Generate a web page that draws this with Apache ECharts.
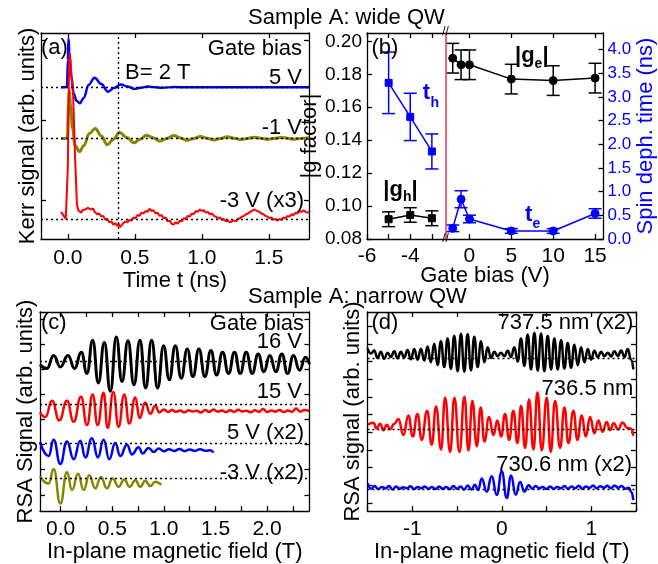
<!DOCTYPE html>
<html><head><meta charset="utf-8">
<script src="https://cdn.jsdelivr.net/npm/echarts@6/dist/echarts.min.js"></script>
<style>html,body{margin:0;padding:0;background:#fff}#c{width:658px;height:564px}</style>
</head><body><div id="c"></div>
<script>
// ---------------- titles ----------------
const titleWide = 'Sample A: wide QW';
const titleNarrow = 'Sample A: narrow QW';

// ---------------- panel (a): Kerr signal vs time ----------------
const kerrTimeTicks = [0, 0.5, 1.0, 1.5];
const kerrBaseline5V = 1.41, kerrBaselineM1V = 0.77, kerrBaselineM3V = -0.24;
const kerrFieldMarkerTime = 0.38;
const kerr5V = [[-0.05,1.41],[-0.02,1.41],[-0.005,1.42],[0.0,1.75],[0.005,2.02],[0.012,1.85],[0.025,1.55],[0.045,1.33],[0.065,1.24],[0.09,1.21],[0.12,1.28],[0.155,1.44],[0.2,1.53],[0.25,1.45],[0.3,1.355],[0.345,1.40],[0.395,1.445],[0.445,1.42],[0.495,1.39],[0.545,1.405],[0.6,1.42],[0.65,1.41],[0.7,1.405],[0.8,1.413],[0.9,1.41],[1.0,1.412],[1.2,1.41],[1.4,1.412],[1.6,1.41],[1.8,1.41]];
const kerrM1V = [[-0.05,0.77],[-0.02,0.77],[-0.003,0.78],[0.005,1.2],[0.012,1.37],[0.02,1.2],[0.035,0.9],[0.055,0.68],[0.087,0.605],[0.12,0.68],[0.16,0.83],[0.205,0.895],[0.25,0.8],[0.295,0.69],[0.34,0.76],[0.387,0.845],[0.44,0.78],[0.495,0.716],[0.54,0.76],[0.587,0.81],[0.64,0.775],[0.687,0.737],[0.74,0.77],[0.79,0.805],[0.84,0.775],[0.89,0.745],[0.94,0.77],[0.99,0.795],[1.04,0.772],[1.09,0.75],[1.14,0.77],[1.19,0.79],[1.24,0.772],[1.29,0.755],[1.34,0.77],[1.39,0.785],[1.44,0.772],[1.49,0.758],[1.54,0.77],[1.59,0.782],[1.64,0.772],[1.69,0.76],[1.74,0.77],[1.8,0.778]];
const kerrM3V = [[-0.05,-0.15],[-0.04,-0.17],[-0.03,-0.2],[-0.015,-0.24],[-0.005,-0.22],[0.0,0.4],[0.008,1.5],[0.015,1.84],[0.028,1.82],[0.04,1.3],[0.055,0.5],[0.068,-0.05],[0.078,-0.13],[0.09,-0.14],[0.1,-0.16],[0.11,-0.13],[0.12,-0.15],[0.13,-0.12],[0.14,-0.14],[0.15,-0.1],[0.16,-0.085],[0.17,-0.12],[0.18,-0.13],[0.19,-0.11],[0.2,-0.15],[0.21,-0.14],[0.22,-0.18],[0.235,-0.17],[0.25,-0.21],[0.265,-0.2],[0.28,-0.25],[0.295,-0.24],[0.31,-0.28],[0.325,-0.27],[0.34,-0.31],[0.355,-0.29],[0.37,-0.33],[0.38,-0.3],[0.39,-0.34],[0.4,-0.36],[0.41,-0.3],[0.42,-0.32],[0.43,-0.27],[0.445,-0.28],[0.46,-0.25],[0.475,-0.26],[0.49,-0.22],[0.505,-0.23],[0.52,-0.19],[0.535,-0.2],[0.55,-0.16],[0.565,-0.17],[0.58,-0.14],[0.595,-0.15],[0.61,-0.11],[0.625,-0.14],[0.64,-0.13],[0.655,-0.17],[0.67,-0.16],[0.685,-0.2],[0.7,-0.19],[0.715,-0.23],[0.73,-0.22],[0.745,-0.27],[0.76,-0.26],[0.775,-0.3],[0.79,-0.31],[0.805,-0.28],[0.82,-0.3],[0.835,-0.26],[0.85,-0.27],[0.865,-0.23],[0.88,-0.24],[0.895,-0.2],[0.91,-0.21],[0.925,-0.17],[0.94,-0.18],[0.955,-0.14],[0.97,-0.15],[0.985,-0.12],[1.0,-0.14],[1.015,-0.13],[1.03,-0.16],[1.045,-0.15],[1.06,-0.18],[1.075,-0.17],[1.09,-0.2],[1.105,-0.21],[1.12,-0.23],[1.135,-0.22],[1.15,-0.25],[1.165,-0.24],[1.18,-0.27],[1.195,-0.26],[1.21,-0.28],[1.225,-0.27],[1.24,-0.26],[1.255,-0.27],[1.27,-0.24],[1.285,-0.23],[1.3,-0.21],[1.315,-0.2],[1.33,-0.18],[1.345,-0.17],[1.36,-0.15],[1.375,-0.14],[1.39,-0.12],[1.4,-0.13],[1.415,-0.14],[1.43,-0.15],[1.445,-0.17],[1.46,-0.18],[1.475,-0.2],[1.49,-0.21],[1.505,-0.23],[1.52,-0.22],[1.535,-0.25],[1.55,-0.24],[1.565,-0.26],[1.58,-0.24],[1.595,-0.25],[1.61,-0.22],[1.625,-0.23],[1.64,-0.2],[1.655,-0.21],[1.67,-0.18],[1.685,-0.19],[1.7,-0.16],[1.715,-0.17],[1.73,-0.14],[1.745,-0.15],[1.76,-0.13],[1.775,-0.15],[1.79,-0.16],[1.8,-0.15]];

// ---------------- panel (b): g factor and spin dephasing time ----------------
const holeBias = [-5, -4, -3];
const gHole = [0.092, 0.0946, 0.0926];
const gHoleErr = [0.0045, 0.0044, 0.0045];
const tauHole = [3.3, 2.58, 1.85];
const tauHoleErr = [0.65, 0.5, 0.37];
const elecBias = [-2, -1, 0, 5, 10, 15];
const gElec = [0.1898, 0.1858, 0.1858, 0.1771, 0.1762, 0.1777];
const gElecErr = [0.009, 0.009, 0.009, 0.009, 0.009, 0.009];
const tauElec = [0.226, 0.84, 0.423, 0.17, 0.17, 0.54];
const tauElecErr = [0.07, 0.18, 0.08, 0.05, 0.05, 0.1];
const biasTicksHole = [-6, -5, -4, -3];
const biasLabelsHole = [-6, -4];
const biasTicksElec = [0, 5, 10, 15];
const gTicks = [0.08, 0.10, 0.12, 0.14, 0.16, 0.18, 0.20];
const tauTicks = [0, 0.5, 1.0, 1.5, 2.0, 2.5, 3.0, 3.5, 4.0];

// ---------------- panel (c): RSA vs field, gate bias ----------------
const fieldTicksC = [0, 0.5, 1.0, 1.5, 2.0];
const fieldMinorC = [0, 0.25, 0.5, 0.75, 1.0, 1.25, 1.5, 1.75, 2.0, 2.25];
const rsaCBase16V = 5.32, rsaCBase15V = 3.62, rsaCBase5V = 2.07, rsaCBaseM3V = 0.65;
const rsa16V = [[-0.2,5.2],[-0.132,5.04],[-0.068,5.56],[-0.003,5.10],[0.071,5.56],[0.135,5.04],[0.2,5.68],[0.255,4.84],[0.31,6.16],[0.365,4.46],[0.423,6.07],[0.481,4.13],[0.539,6.29],[0.594,4.52],[0.652,6.14],[0.71,4.39],[0.768,6.16],[0.823,4.26],[0.881,6.16],[0.939,4.26],[0.997,5.94],[1.052,4.59],[1.11,5.94],[1.168,4.65],[1.226,5.81],[1.281,4.72],[1.339,5.81],[1.397,4.72],[1.455,5.75],[1.51,4.78],[1.568,5.68],[1.626,4.84],[1.684,5.68],[1.739,4.84],[1.797,5.68],[1.855,4.84],[1.913,5.62],[1.968,4.91],[2.026,5.56],[2.084,4.91],[2.142,5.62],[2.197,4.84],[2.255,5.56],[2.313,4.97],[2.371,5.49],[2.41,5.2]];
const rsa15V = [[-0.2,3.29],[-0.148,3.10],[-0.084,3.75],[-0.013,2.97],[0.061,3.75],[0.126,2.91],[0.197,3.91],[0.255,2.78],[0.31,4.0],[0.358,2.78],[0.416,4.07],[0.455,2.67],[0.51,4.10],[0.561,2.71],[0.616,4.0],[0.665,2.84],[0.723,3.88],[0.765,3.06],[0.819,3.68],[0.868,3.23],[0.916,3.55],[0.955,3.29],[1.0,3.40],[1.04,3.30],[1.08,3.38],[1.12,3.31],[1.16,3.36],[1.2,3.29],[1.24,3.37],[1.28,3.32],[1.32,3.35],[1.36,3.28],[1.4,3.38],[1.44,3.31],[1.48,3.40],[1.52,3.32],[1.56,3.36],[1.6,3.30],[1.64,3.37],[1.68,3.31],[1.72,3.39],[1.76,3.32],[1.8,3.35],[1.84,3.29],[1.88,3.37],[1.92,3.31],[1.96,3.42],[2.0,3.30],[2.04,3.36],[2.08,3.32],[2.12,3.38],[2.16,3.30],[2.2,3.36],[2.24,3.31],[2.28,3.44],[2.32,3.32],[2.36,3.38],[2.41,3.34]];
const rsa5V = [[-0.2,2.10],[-0.116,1.55],[-0.068,2.20],[-0.003,1.23],[0.061,2.13],[0.126,1.42],[0.19,2.16],[0.239,1.49],[0.303,2.26],[0.361,1.49],[0.416,2.20],[0.471,1.42],[0.529,2.07],[0.577,1.55],[0.642,2.0],[0.69,1.61],[0.755,1.90],[0.794,1.65],[0.852,1.87],[0.9,1.71],[0.95,1.85],[1.0,1.74],[1.05,1.82],[1.1,1.75],[1.15,1.83],[1.2,1.74],[1.25,1.81],[1.3,1.75],[1.35,1.82],[1.4,1.76],[1.45,1.78],[1.48,1.68]];
const rsaM3V = [[-0.2,0.74],[-0.116,0.45],[-0.068,1.03],[-0.003,-0.35],[0.061,0.90],[0.11,0.19],[0.168,0.84],[0.223,0.19],[0.277,0.78],[0.335,0.26],[0.39,0.71],[0.448,0.26],[0.503,0.65],[0.561,0.32],[0.616,0.61],[0.668,0.32],[0.723,0.58],[0.771,0.32],[0.819,0.56],[0.868,0.35],[0.916,0.52],[0.974,0.39]];

// ---------------- panel (d): RSA vs field, wavelength ----------------
const fieldTicksD = [-1, 0, 1];
const fieldMinorD = [-1.5, -1, -0.5, 0, 0.5, 1, 1.5];
const rsaDBase737 = 8.2, rsaDBase736 = 4.17, rsaDBase730 = 0.76;
const rsa737 = [[-1.500,8.75],[-1.463,8.45],[-1.425,8.62],[-1.388,8.20],[-1.351,8.55],[-1.314,8.15],[-1.276,8.50],[-1.239,8.25],[-1.202,8.58],[-1.164,8.18],[-1.127,8.55],[-1.090,8.22],[-1.053,8.65],[-1.015,8.12],[-0.978,8.70],[-0.941,8.10],[-0.903,8.72],[-0.866,8.05],[-0.829,8.85],[-0.792,7.96],[-0.754,9.00],[-0.717,7.80],[-0.680,9.15],[-0.642,7.68],[-0.605,9.30],[-0.568,7.58],[-0.531,9.45],[-0.493,7.45],[-0.456,9.57],[-0.419,7.42],[-0.381,9.55],[-0.344,7.50],[-0.307,9.40],[-0.270,7.68],[-0.232,9.15],[-0.195,7.95],[-0.158,8.80],[-0.120,8.20],[-0.083,8.55],[-0.046,8.30],[-0.009,8.50],[0.029,8.30],[0.066,8.60],[0.103,8.25],[0.141,8.80],[0.178,8.00],[0.215,9.30],[0.252,7.75],[0.290,9.52],[0.327,7.55],[0.364,9.62],[0.402,7.48],[0.439,9.58],[0.476,7.45],[0.513,9.45],[0.551,7.55],[0.588,9.30],[0.625,7.55],[0.663,9.20],[0.700,7.60],[0.737,9.05],[0.774,7.65],[0.812,8.95],[0.849,7.78],[0.886,8.80],[0.924,7.95],[0.961,8.70],[0.998,8.10],[1.035,8.60],[1.073,8.25],[1.110,8.55],[1.147,8.30],[1.185,8.50],[1.222,8.28],[1.259,8.58],[1.296,8.30],[1.334,8.62],[1.371,8.25],[1.408,8.70],[1.445,8.10],[1.470,7.55]];
const rsa736 = [[-1.497,4.42],[-1.434,4.53],[-1.397,4.21],[-1.359,4.48],[-1.322,4.11],[-1.285,4.42],[-1.248,4.17],[-1.199,4.48],[-1.155,4.75],[-1.099,3.84],[-1.043,4.94],[-0.994,3.75],[-0.942,5.03],[-0.894,3.56],[-0.834,5.21],[-0.782,3.29],[-0.734,5.45],[-0.678,3.01],[-0.633,5.95],[-0.577,2.88],[-0.529,5.95],[-0.473,2.88],[-0.417,6.00],[-0.372,2.96],[-0.328,5.76],[-0.279,3.20],[-0.235,5.40],[-0.194,3.47],[-0.142,4.85],[-0.093,3.84],[-0.048,4.66],[-0.007,3.75],[0.037,5.03],[0.082,3.56],[0.130,5.21],[0.175,3.38],[0.216,5.49],[0.261,3.11],[0.305,5.85],[0.354,3.01],[0.399,6.26],[0.447,2.96],[0.503,5.95],[0.547,2.88],[0.596,5.76],[0.652,3.11],[0.700,5.40],[0.745,3.38],[0.801,5.21],[0.845,3.56],[0.894,4.94],[0.939,3.75],[0.987,4.85],[1.035,3.93],[1.080,4.66],[1.125,4.02],[1.173,4.57],[1.210,4.11],[1.25,4.50],[1.30,4.15],[1.35,4.55],[1.40,4.25],[1.44,4.20],[1.47,3.80]];
const rsa730 = [[-1.497,1.10],[-1.46,0.80],[-1.42,0.95],[-1.38,0.78],[-1.34,0.90],[-1.30,0.82],[-1.26,0.95],[-1.22,0.75],[-1.18,0.92],[-1.14,0.80],[-1.10,0.88],[-1.06,0.82],[-1.02,0.93],[-0.98,0.78],[-0.94,0.90],[-0.90,0.82],[-0.86,0.92],[-0.82,0.80],[-0.78,0.90],[-0.74,0.78],[-0.70,0.92],[-0.66,0.80],[-0.62,0.90],[-0.58,0.78],[-0.54,0.95],[-0.50,0.80],[-0.46,0.92],[-0.42,0.75],[-0.38,0.98],[-0.34,0.75],[-0.30,1.02],[-0.265,0.72],[-0.223,1.37],[-0.168,0.63],[-0.112,1.50],[-0.056,0.45],[0.0,1.77],[0.056,0.27],[0.104,1.55],[0.156,0.45],[0.205,1.18],[0.253,0.63],[0.30,1.0],[0.34,0.80],[0.38,0.95],[0.42,0.82],[0.46,0.90],[0.50,0.78],[0.54,0.92],[0.58,0.80],[0.62,0.90],[0.66,0.82],[0.70,0.95],[0.74,0.80],[0.78,0.92],[0.82,0.82],[0.86,0.96],[0.90,0.80],[0.94,0.92],[0.98,0.84],[1.02,0.98],[1.06,0.82],[1.10,0.94],[1.14,0.85],[1.18,0.96],[1.22,0.82],[1.26,0.98],[1.30,0.85],[1.34,0.95],[1.38,0.80],[1.42,0.85],[1.45,0.60],[1.47,0.15]];

// ---------------- styling helpers ----------------
const FONT = '"Liberation Sans", Arial, Helvetica, sans-serif';
const BLUE = '#0000ff', RED = '#ff0000', OLIVE = '#858500', BLACK = '#000000', BREAK_RED = '#e8365a';

function axis(grid, pos, min, max, cfg) {
  cfg = cfg || {};
  const a = {
    type: 'value', gridIndex: grid, position: pos, min: min, max: max,
    show: cfg.show !== false,
    splitLine: {show: false},
    axisLine: {show: cfg.line !== false, onZero: false, lineStyle: {color: '#000', width: 1.3}},
    axisTick: {show: !!cfg.ticks, inside: true, length: cfg.tickLen || 5, customValues: cfg.ticks, lineStyle: {color: '#000', width: 1.3}},
    axisLabel: {show: !!cfg.labels, customValues: cfg.labels, margin: cfg.margin == null ? 5 : cfg.margin,
      color: cfg.labelColor || '#000', fontSize: cfg.fs || 21, fontFamily: FONT, formatter: cfg.fmt},
  };
  if (cfg.name) {
    a.name = cfg.name; a.nameLocation = 'middle'; a.nameGap = cfg.nameGap;
    a.nameTextStyle = {fontSize: 22, fontFamily: FONT, color: cfg.nameColor || '#000'};
  }
  return a;
}
function dotted(values, key) {
  return {silent: true, symbol: ['none', 'none'], label: {show: false}, animation: false,
    lineStyle: {type: [2, 3], color: '#000', width: 1.3},
    data: values.map(v => ({[key]: v}))};
}
function trace(data, color, width, xi, yi, smooth, markLine, z) {
  return {type: 'line', data: data, xAxisIndex: xi, yAxisIndex: yi, symbol: 'none', showSymbol: false,
    smooth: smooth, smoothMonotone: 'x', clip: true, z: z || 3,
    lineStyle: {color: color, width: width}, markLine: markLine, animation: false};
}
function points(xs, ys, color, sym, size, xi, yi) {
  return {type: 'line', data: xs.map((x, i) => [x, ys[i]]), xAxisIndex: xi, yAxisIndex: yi,
    symbol: sym, symbolSize: size, showSymbol: true, z: 5,
    itemStyle: {color: color, borderColor: color}, lineStyle: {color: color, width: 1.5}, animation: false};
}
function errorBars(xs, ys, errs, color, xi, yi) {
  return {type: 'custom', xAxisIndex: xi, yAxisIndex: yi, z: 4, animation: false,
    data: xs.map((x, i) => [x, ys[i] - errs[i], ys[i] + errs[i]]),
    encode: {x: 0, y: [1, 2]},
    renderItem: function (params, api) {
      const x = api.value(0);
      const lo = api.coord([x, api.value(1)]);
      const hi = api.coord([x, api.value(2)]);
      const w = 6.5, st = {stroke: color, lineWidth: 1.5};
      return {type: 'group', children: [
        {type: 'line', shape: {x1: lo[0], y1: lo[1], x2: hi[0], y2: hi[1]}, style: st},
        {type: 'line', shape: {x1: lo[0] - w, y1: lo[1], x2: lo[0] + w, y2: lo[1]}, style: st},
        {type: 'line', shape: {x1: hi[0] - w, y1: hi[1], x2: hi[0] + w, y2: hi[1]}, style: st}
      ]};
    }};
}
function txt(text, x, y, align, size, color, weight) {
  return {type: 'text', x: x, y: y, z: 20, silent: true,
    style: {text: text, fill: color || '#000', font: (weight || 'normal') + ' ' + (size || 22) + 'px ' + FONT,
      textAlign: align, align: align, textVerticalAlign: 'middle', verticalAlign: 'middle'}};
}
const f1 = v => v.toFixed(1);
const f2 = v => v.toFixed(2);
const f0 = v => String(v);

// ---------------- axis ranges ----------------
const aX = [-0.2, 1.8], aY = [-0.49, 2.09];
const bXh = [-6, -2.37], bXe = [-2.86, 16], bG = [0.08, 0.2051], bT = [0, 4.353];
const cX = [-0.2, 2.41], cY = [-0.65, 7.29];
const dX = [-1.5, 1.5], dY = [-0.47, 10.8];

const option = {
  animation: false,
  backgroundColor: '#fff',
  title: [
    {text: titleWide, left: 248, top: 7, padding: 0, textStyle: {fontSize: 22, fontWeight: 'normal', fontFamily: FONT, color: '#000'}},
    {text: titleNarrow, left: 248, top: 286, padding: 0, textStyle: {fontSize: 22, fontWeight: 'normal', fontFamily: FONT, color: '#000'}}
  ],
  grid: [
    {left: 41, top: 33, width: 268, height: 206},
    {left: 367, top: 33, width: 78.5, height: 206},
    {left: 445.5, top: 33, width: 158, height: 206},
    {left: 40, top: 312, width: 269.5, height: 205},
    {left: 367.5, top: 312, width: 268.5, height: 205}
  ],
  xAxis: [
    axis(0, 'bottom', aX[0], aX[1], {ticks: kerrTimeTicks, labels: kerrTimeTicks, fmt: f1, margin: 9, name: 'Time t (ns)', nameGap: 27}),
    axis(0, 'top', aX[0], aX[1], {ticks: kerrTimeTicks}),
    axis(1, 'bottom', bXh[0], bXh[1], {ticks: biasTicksHole, labels: biasLabelsHole, fmt: f0, margin: 7}),
    axis(1, 'top', bXh[0], bXh[1], {ticks: biasTicksHole}),
    axis(2, 'bottom', bXe[0], bXe[1], {ticks: biasTicksElec, labels: biasTicksElec, fmt: f0, margin: 7}),
    axis(2, 'top', bXe[0], bXe[1], {ticks: biasTicksElec}),
    axis(3, 'bottom', cX[0], cX[1], {ticks: fieldMinorC, labels: fieldTicksC, fmt: f1, margin: 8, name: 'In-plane magnetic field (T)', nameGap: 26}),
    axis(3, 'top', cX[0], cX[1], {ticks: fieldMinorC}),
    axis(4, 'bottom', dX[0], dX[1], {ticks: fieldMinorD, labels: fieldTicksD, fmt: f0, margin: 8, name: 'In-plane magnetic field (T)', nameGap: 26}),
    axis(4, 'top', dX[0], dX[1], {ticks: fieldMinorD})
  ],
  yAxis: [
    axis(0, 'left', aY[0], aY[1], {ticks: [0, 1, 2], name: 'Kerr signal (arb. units)', nameGap: 2}),
    axis(0, 'right', aY[0], aY[1], {ticks: [0, 1, 2]}),
    axis(1, 'left', bG[0], bG[1], {ticks: gTicks, labels: gTicks, fmt: f2, fs: 19, margin: 5, name: '|g factor|', nameGap: 38}),
    axis(1, 'right', bT[0], bT[1], {show: false}),
    axis(2, 'left', bG[0], bG[1], {show: false}),
    axis(2, 'right', bT[0], bT[1], {ticks: tauTicks, labels: tauTicks, fmt: f1, fs: 17, labelColor: BLUE, margin: 4, name: 'Spin deph. time (ns)', nameGap: 27, nameColor: BLUE}),
    axis(3, 'left', cY[0], cY[1], {ticks: [0, 1, 2, 3, 4, 5, 6, 7], name: 'RSA Signal (arb. units)', nameGap: 3.5}),
    axis(3, 'right', cY[0], cY[1], {ticks: [0, 1, 2, 3, 4, 5, 6, 7]}),
    axis(4, 'left', dY[0], dY[1], {ticks: [0, 1, 2, 3, 4, 5, 6, 7, 8, 9, 10], name: 'RSA signal (arb. units)', nameGap: 4}),
    axis(4, 'right', dY[0], dY[1], {ticks: [0, 1, 2, 3, 4, 5, 6, 7, 8, 9, 10]})
  ],
  series: [
    // (a)
    trace(kerr5V, BLUE, 2.5, 0, 0, 0.4, dotted([kerrBaseline5V], 'yAxis')),
    trace(kerrM1V, OLIVE, 3, 0, 0, 0.4, dotted([kerrBaselineM1V], 'yAxis')),
    trace(kerrM3V, RED, 2, 0, 0, false, {silent: true, symbol: ['none', 'none'], label: {show: false},
      lineStyle: {type: [2, 3], color: '#000', width: 1.3}, data: [{yAxis: kerrBaselineM3V}, {xAxis: kerrFieldMarkerTime}]}),
    // (b) holes (left segment)
    errorBars(holeBias, tauHole, tauHoleErr, BLUE, 2, 3),
    points(holeBias, tauHole, BLUE, 'rect', 7, 2, 3),
    errorBars(holeBias, gHole, gHoleErr, BLACK, 2, 2),
    points(holeBias, gHole, BLACK, 'rect', 7, 2, 2),
    // (b) electrons (right segment)
    errorBars(elecBias, tauElec, tauElecErr, BLUE, 4, 5),
    points(elecBias, tauElec, BLUE, 'circle', 8, 4, 5),
    errorBars(elecBias, gElec, gElecErr, BLACK, 4, 4),
    Object.assign(points(elecBias, gElec, BLACK, 'circle', 8, 4, 4), {
      markLine: {silent: true, symbol: ['none', 'none'], label: {show: false},
        lineStyle: {type: 'solid', color: BREAK_RED, width: 1.5}, data: [{xAxis: bXe[0]}]}
    }),
    // (c)
    trace(rsa16V, BLACK, 3, 6, 6, 0.5, dotted([rsaCBase16V], 'yAxis')),
    trace(rsa15V, RED, 2.5, 6, 6, 0.5, dotted([rsaCBase15V], 'yAxis')),
    trace(rsa5V, BLUE, 2.5, 6, 6, 0.5, dotted([rsaCBase5V], 'yAxis')),
    trace(rsaM3V, OLIVE, 2.5, 6, 6, 0.5, dotted([rsaCBaseM3V], 'yAxis')),
    // (d)
    trace(rsa737, BLACK, 2.5, 8, 8, 0.5, dotted([rsaDBase737], 'yAxis')),
    trace(rsa736, RED, 2.5, 8, 8, 0.5, dotted([rsaDBase736], 'yAxis')),
    trace(rsa730, BLUE, 2.5, 8, 8, 0.5, dotted([rsaDBase730], 'yAxis'))
  ],
  graphic: [
    // (a)
    txt('(a)', 41, 48, 'left'), txt('Gate bias', 302, 49, 'right'), txt('B= 2 T', 125, 72.5, 'left'),
    txt('5 V', 302, 77.5, 'right'), txt('-1 V', 302, 127.5, 'right'), txt('-3 V (x3)', 304, 200.5, 'right'),
    // (b)
    txt('(b)', 371.5, 48, 'left'),
    txt('|g', 515, 56, 'left', 22, BLACK, 'bold'), txt('e', 534.6, 64, 'left', 14, BLACK, 'bold'), txt('|', 542.4, 56, 'left', 22, BLACK, 'bold'),
    txt('t', 422.7, 93, 'left', 22, BLUE, 'bold'), txt('h', 430.5, 103, 'left', 14, BLUE, 'bold'),
    txt('|g', 383.3, 190, 'left', 22, BLACK, 'bold'), txt('h', 402.9, 197, 'left', 14, BLACK, 'bold'), txt('|', 411.5, 190, 'left', 22, BLACK, 'bold'),
    txt('t', 525, 215, 'left', 22, BLUE, 'bold'), txt('e', 532.5, 224, 'left', 14, BLUE, 'bold'),
    txt('Gate bias (V)', 485, 276, 'center'),
    txt('//', 445.5, 32, 'center', 12), txt('//', 445.5, 239, 'center', 12),
    // (c)
    txt('(c)', 41, 323, 'left'), txt('Gate bias', 304, 323.5, 'right'), txt('16 V', 302, 341.7, 'right'),
    txt('15 V', 302, 391.5, 'right'), txt('5 V (x2)', 304, 432.5, 'right'), txt('-3 V (x2)', 304, 473, 'right'),
    // (d)
    txt('(d)', 371.5, 323, 'left'), txt('737.5 nm (x2)', 633.3, 323, 'right'), txt('736.5 nm', 633.3, 389, 'right'),
    txt('730.6 nm (x2)', 632, 465, 'right')
  ]
};
const chart = echarts.init(document.getElementById('c'), null, {renderer: 'canvas', width: 658, height: 564});
chart.setOption(option);
</script></body></html>
